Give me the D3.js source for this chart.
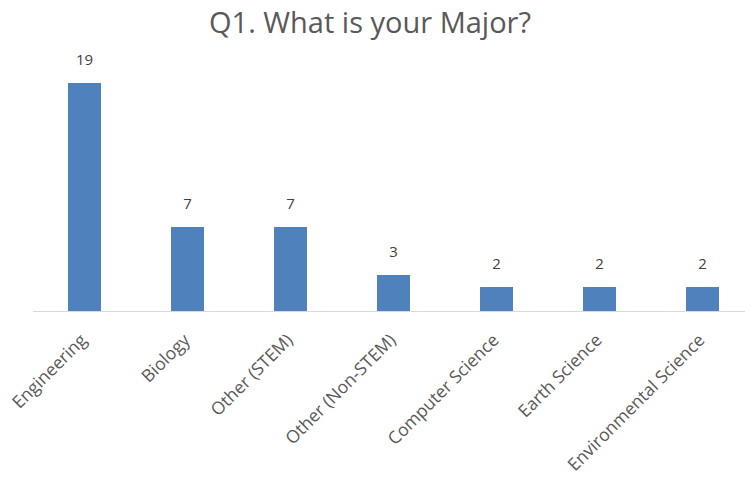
<!DOCTYPE html>
<html>
<head>
<meta charset="utf-8">
<script src="https://cdn.jsdelivr.net/npm/d3@7"></script>
<style>
  body { margin: 0; background: #fff; }
  text { font-family: "Open Sans", "Liberation Sans", sans-serif; }
</style>
</head>
<body>
<svg id="chart" width="745" height="477"></svg>
<script>
// chart data
var majors = ["Engineering", "Biology", "Other (STEM)", "Other (Non-STEM)",
              "Computer Science", "Earth Science", "Environmental Science"];
var counts = [19, 7, 7, 3, 2, 2, 2];

var width = 745, height = 477;
var margin = {top: 83, left: 33, baseline: 311};

var svg = d3.select("#chart");

var x = d3.scaleBand()
    .domain(majors)
    .range([margin.left, margin.left + 7 * 103])
    .paddingInner(0.68)
    .paddingOuter(0.34);

var y = d3.scaleLinear()
    .domain([0, 19])
    .range([margin.baseline, margin.top]);

// title
svg.append("text")
    .attr("x", 370)
    .attr("y", 33)
    .attr("text-anchor", "middle")
    .attr("font-size", 29)
    .attr("fill", "#595959")
    .text("Q1. What is your Major?");

// bars
svg.selectAll("rect.bar")
    .data(counts)
  .enter().append("rect")
    .attr("class", "bar")
    .attr("x", function(d, i) { return x(majors[i]); })
    .attr("y", function(d) { return y(d); })
    .attr("width", x.bandwidth())
    .attr("height", function(d) { return y(0) - y(d); })
    .attr("fill", "#4F81BD");

// value labels
svg.selectAll("text.val")
    .data(counts)
  .enter().append("text")
    .attr("class", "val")
    .attr("x", function(d, i) { return x(majors[i]) + x.bandwidth() / 2; })
    .attr("y", function(d) { return y(d) - 18; })
    .attr("text-anchor", "middle")
    .attr("font-size", 15)
    .attr("fill", "#404040")
    .text(function(d) { return d; });

// x axis
var axis = svg.append("g")
    .attr("transform", "translate(0," + margin.baseline + ")")
    .call(d3.axisBottom(x).tickSize(0).tickPadding(0));

axis.select(".domain")
    .attr("d", "M" + margin.left + ",0.5H" + width)
    .attr("stroke", "#D9D9D9");

axis.selectAll(".tick text")
    .attr("font-family", null)
    .attr("font-size", 17.5)
    .attr("fill", "#595959")
    .attr("text-anchor", "end")
    .attr("dy", "0.35em")
    .attr("transform", "translate(-1,26) rotate(-45)");
</script>
</body>
</html>
